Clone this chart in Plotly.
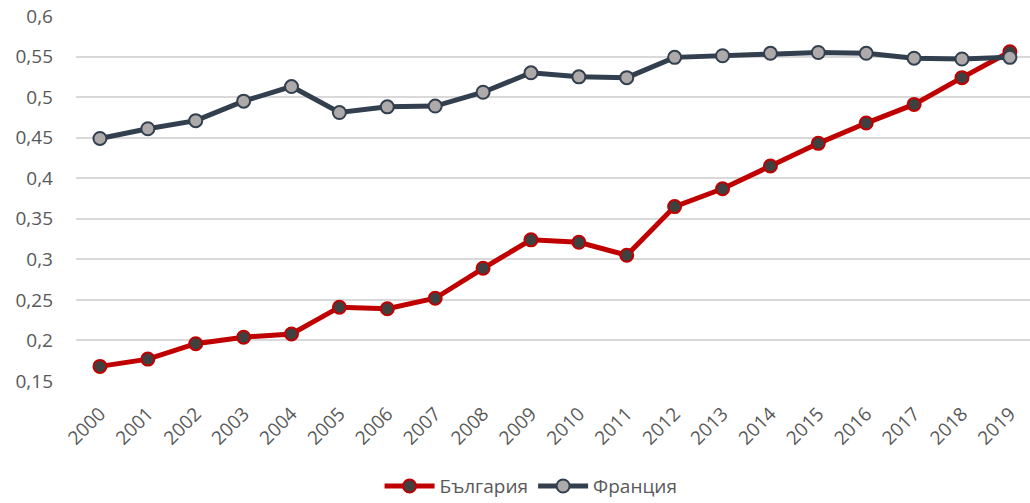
import plotly.graph_objects as go

years = [str(y) for y in range(2000, 2020)]
bulgaria = [0.168, 0.177, 0.196, 0.204, 0.208, 0.241, 0.239, 0.252, 0.289, 0.324,
            0.321, 0.305, 0.365, 0.387, 0.415, 0.443, 0.468, 0.491, 0.524, 0.556]
france = [0.449, 0.461, 0.471, 0.495, 0.513, 0.481, 0.488, 0.489, 0.506, 0.530,
          0.525, 0.524, 0.549, 0.551, 0.554, 0.555, 0.554, 0.548, 0.547, 0.549]
y_ticks = [0.15, 0.2, 0.25, 0.3, 0.35, 0.4, 0.45, 0.5, 0.55, 0.6]

fig = go.Figure()
fig.add_trace(go.Scatter(
    x=years, y=bulgaria, name="България", mode="lines+markers",
    line=dict(color="#C00000", width=5),
    marker=dict(size=13, color="#404040", line=dict(color="#C00000", width=2)),
))
fig.add_trace(go.Scatter(
    x=years, y=france, name="Франция", mode="lines+markers",
    line=dict(color="#323F4F", width=5),
    marker=dict(size=13, color="#AEAAAA", line=dict(color="#323F4F", width=2)),
))

font_family = "Open Sans, Liberation Sans, sans-serif"
fig.update_layout(
    width=1030, height=503,
    margin=dict(l=76, r=0, t=16, b=122, autoexpand=False),
    plot_bgcolor="white", paper_bgcolor="white",
    separators=",.",
    font=dict(family=font_family, size=19, color="#595959"),
    showlegend=True,
    legend=dict(orientation="h", x=0.477, xanchor="center", y=-0.236, yanchor="top",
                font=dict(size=19, color="#595959"), itemwidth=50,
                tracegroupgap=0),
    xaxis=dict(
        type="category", range=[-0.5, 19.42], tickangle=-45,
        showgrid=False, showline=False, ticks="", tickfont=dict(size=19),
        ticklabelstandoff=17, automargin=False,
    ),
    yaxis=dict(
        range=[0.15, 0.6], tickvals=y_ticks, showgrid=True,
        gridcolor="#D9D9D9", gridwidth=1.5, zeroline=False, showline=False,
        ticks="", tickfont=dict(size=19), ticklabelstandoff=22,
        ticklabeloverflow="allow", automargin=False,
    ),
)
fig.write_html(
    "out.html",
    config={"displayModeBar": False},
    post_script="document.body.style.margin='0';document.body.style.overflow='hidden';",
)
